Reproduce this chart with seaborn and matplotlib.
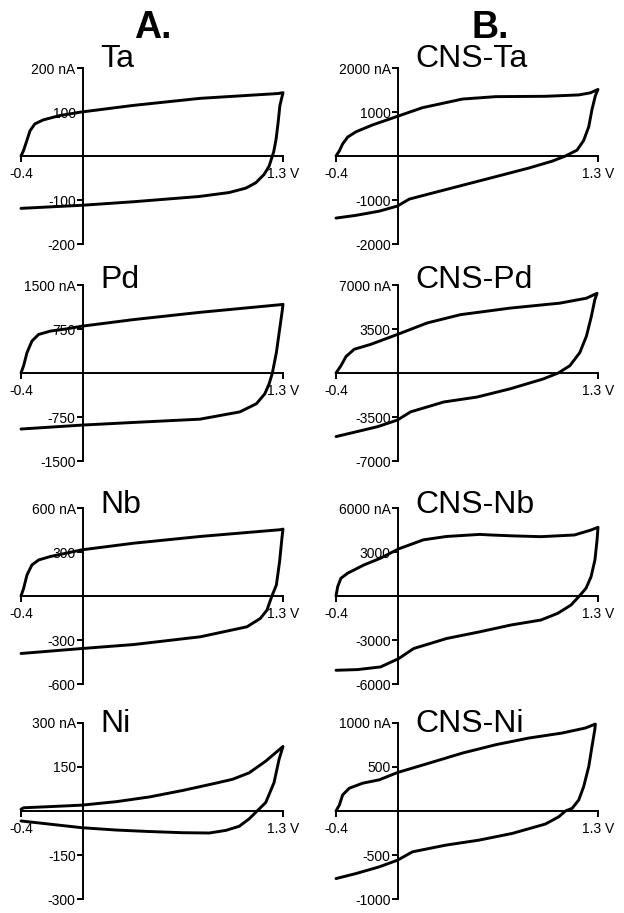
import numpy as np
import pandas as pd
import seaborn as sns
import matplotlib.pyplot as plt

# cyclic voltammograms, potential in V, current in nA
# each loop: forward scan -0.4 -> 1.3 V, then reverse scan back to -0.4 V
ta_v = [-0.4, -0.385, -0.363, -0.342, -0.31, -0.256, -0.148, -0.008, 0.329, 0.761, 1.268, 1.3,
        1.28, 1.268, 1.255, 1.24, 1.231, 1.21, 1.177, 1.123, 1.059, 0.951, 0.757, 0.329, -0.005, -0.4]
ta_i = [0, 11, 34, 57, 73, 82, 92, 100, 115, 131, 142, 144,
        115, 75, 38, 10, 0, -23, -42, -61, -73, -83, -92, -104, -112, -119]

cns_ta_v = [-0.4, -0.378, -0.357, -0.324, -0.271, -0.163, -0.001, 0.161, 0.42, 0.636, 0.959, 1.175, 1.25, 1.3,
            1.283, 1.261, 1.24, 1.207, 1.164, 1.089, 1.002, 0.851, 0.636, 0.42, 0.204, 0.075, -0.001, -0.12, -0.271, -0.4]
cns_ta_i = [0, 118, 274, 431, 549, 706, 902, 1098, 1294, 1349, 1357, 1388, 1435, 1513,
            1372, 1058, 666, 353, 133, 0, -118, -274, -470, -666, -862, -980, -1137, -1254, -1349, -1411]

pd_v = [-0.4, -0.383, -0.361, -0.329, -0.286, -0.21, -0.103, -0.005, 0.329, 0.761, 1.278, 1.3,
        1.296, 1.278, 1.257, 1.231, 1.21, 1.182, 1.128, 1.02, 0.761, 0.329, -0.005, -0.4]
pd_i = [0, 124, 348, 545, 657, 714, 753, 798, 910, 1034, 1163, 1170,
        1079, 742, 348, 0, -185, -354, -523, -663, -787, -843, -888, -955]

cns_pd_v = [-0.4, -0.368, -0.335, -0.282, -0.174, -0.002, 0.192, 0.407, 0.73, 1.052, 1.225, 1.294,
            1.279, 1.257, 1.225, 1.182, 1.117, 1.042, 0.945, 0.73, 0.515, 0.299, 0.084, -0.002, -0.131, -0.282, -0.4]
cns_pd_i = [0, 577, 1311, 1887, 2280, 3066, 3983, 4639, 5163, 5556, 5949, 6340,
            5816, 4506, 2934, 1624, 576, 0, -472, -1258, -1913, -2306, -3092, -3747, -4271, -4716, -5057]

nb_v = [-0.4, -0.383, -0.361, -0.329, -0.285, -0.21, -0.004, 0.331, 0.764, 1.282, 1.3,
        1.293, 1.278, 1.257, 1.228, 1.196, 1.153, 1.066, 0.764, 0.331, -0.004, -0.4]
nb_i = [0, 52, 144, 212, 246, 269, 315, 360, 406, 452, 456,
        395, 235, 75, 0, -96, -153, -210, -278, -331, -358, -392]

cns_nb_v = [-0.4, -0.389, -0.368, -0.325, -0.218, -0.111, 0.007, 0.168, 0.318, 0.533, 0.605, 0.747, 0.93, 1.147, 1.255, 1.3,
            1.294, 1.28, 1.255, 1.222, 1.179, 1.125, 1.039, 0.93, 0.735, 0.533, 0.318, 0.104, 0.007, -0.111, -0.261, -0.4]
cns_nb_i = [0, 639, 1209, 1551, 2121, 2578, 3216, 3832, 4060, 4200, 4160, 4100, 4045, 4160, 4500, 4686,
            3820, 2455, 1316, 525, 0, -614, -1180, -1637, -1978, -2441, -2897, -3581, -4266, -4836, -5018, -5064]

ni_v = [-0.4, -0.383, -0.21, -0.005, 0.221, 0.434, 0.649, 0.865, 0.972, 1.08, 1.188, 1.3,
        1.274, 1.242, 1.188, 1.134, 1.08, 1.016, 0.93, 0.822, 0.649, 0.434, 0.221, -0.005, -0.21, -0.4]
ni_i = [6, 11, 15, 20, 32, 48, 70, 95, 108, 130, 170, 220,
        175, 97, 29, 1, -27, -52, -66, -75, -74, -70, -65, -57, -45, -34]

cns_ni_v = [-0.4, -0.378, -0.357, -0.314, -0.227, -0.12, -0.001, 0.204, 0.42, 0.636, 0.851, 1.067, 1.218, 1.283,
            1.279, 1.261, 1.24, 1.207, 1.175, 1.132, 1.089, 1.046, 0.959, 0.743, 0.528, 0.312, 0.096, -0.001, -0.12, -0.271, -0.4]
cns_ni_i = [0, 68, 182, 259, 316, 354, 437, 544, 658, 753, 829, 886, 943, 988,
            923, 733, 505, 277, 125, 30, 0, -65, -148, -255, -331, -388, -464, -559, -635, -711, -768]

names = [['Ta', 'CNS-Ta'], ['Pd', 'CNS-Pd'], ['Nb', 'CNS-Nb'], ['Ni', 'CNS-Ni']]
limits = [[200, 2000], [1500, 7000], [600, 6000], [300, 1000]]
curves = [[(ta_v, ta_i), (cns_ta_v, cns_ta_i)],
          [(pd_v, pd_i), (cns_pd_v, cns_pd_i)],
          [(nb_v, nb_i), (cns_nb_v, cns_nb_i)],
          [(ni_v, ni_i), (cns_ni_v, cns_ni_i)]]

sns.set_style('ticks')
plt.rcParams['font.family'] = ['Liberation Sans', 'DejaVu Sans']
plt.rcParams['text.color'] = 'black'
plt.rcParams['xtick.color'] = 'black'
plt.rcParams['ytick.color'] = 'black'

W, H = 624, 913
fig = plt.figure(figsize=(W / 100, H / 100), dpi=100)

col_left = [21, 336]
col_w = 262
row_top = [68, 285, 508, 723]
row_h = 176
title_dy = [1, -3, -5, -9]

for r in range(4):
    for c in range(2):
        ax = fig.add_axes([col_left[c] / W, 1 - (row_top[r] + row_h) / H, col_w / W, row_h / H])
        v, i = curves[r][c]
        df = pd.DataFrame({'v': v, 'i': i})
        sns.lineplot(data=df, x='v', y='i', sort=False, estimator=None, color='black',
                     lw=2.1, ax=ax, solid_joinstyle='round', solid_capstyle='round')
        for ln in ax.lines:
            ln.set_clip_on(False)

        m = limits[r][c]
        ax.set_xlim(-0.4, 1.3)
        ax.set_ylim(-m, m)
        ax.set_facecolor('none')
        ax.grid(False)
        ax.set_xlabel('')
        ax.set_ylabel('')

        for s in ['top', 'right']:
            ax.spines[s].set_visible(False)
        ax.spines['left'].set_position(('data', 0))
        ax.spines['bottom'].set_position(('data', 0))
        for s in ['left', 'bottom']:
            ax.spines[s].set_linewidth(1.4)
            ax.spines[s].set_color('black')

        half = m // 2
        ax.set_yticks([-m, -half, half, m])
        ax.set_yticklabels([f'-{m}', f'-{half}', f'{half}', f'{m} nA'])
        ax.set_xticks([-0.4, 1.3])
        ax.set_xticklabels(['-0.4', '1.3 V'])
        ax.tick_params(axis='both', labelsize=10, width=1.4, length=4, color='black', labelcolor='black')
        ax.tick_params(axis='y', pad=1)
        ax.tick_params(axis='x', pad=4)

        ax.annotate(names[r][c], xy=(0, 1), xycoords=('data', 'axes fraction'),
                    xytext=(18, title_dy[r]), textcoords='offset pixels',
                    ha='left', va='baseline', fontsize=23, color='black')

fig.text(153 / W, 1 - 38 / H, 'A.', ha='center', va='baseline', fontsize=27, weight='bold', color='black')
fig.text(490 / W, 1 - 38 / H, 'B.', ha='center', va='baseline', fontsize=27, weight='bold', color='black')

fig.savefig('out.png', dpi=100, facecolor='white')
